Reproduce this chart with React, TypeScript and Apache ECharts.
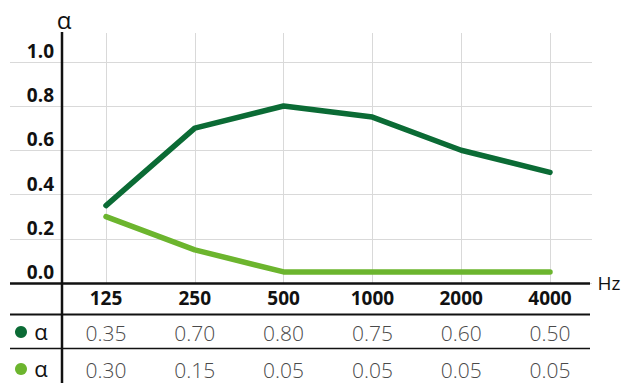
import React, { useEffect, useRef } from "react";
import * as echarts from "echarts";

const categories = ["125", "250", "500", "1000", "2000", "4000"];
const seriesDark = [0.35, 0.7, 0.8, 0.75, 0.6, 0.5];
const seriesLight = [0.3, 0.15, 0.05, 0.05, 0.05, 0.05];
const yTicks = [0, 0.2, 0.4, 0.6, 0.8, 1.0];

const DARK = "#0b6b35";
const LIGHT = "#6cb52e";
const FONT = "'Open Sans', 'Noto Sans', sans-serif";

export default function App() {
  const ref = useRef<HTMLDivElement>(null);
  useEffect(() => {
    if (!ref.current) return;
    const chart = echarts.init(ref.current, undefined, { renderer: "svg" });
    const yBase = {
      type: "value" as const,
      min: 0,
      max: 1.13,
      interval: 0.2,
    };
    const rowAxis = (values: number[], offset: number, gridIndex: number) => ({
      type: "category" as const,
      gridIndex,
      data: categories,
      boundaryGap: false,
      position: "bottom" as const,
      offset,
      axisLine: { show: false },
      axisTick: { show: false },
      splitLine: { show: false },
      axisLabel: {
        margin: 6,
        fontFamily: FONT,
        fontSize: 21,
        fontWeight: 300,
        color: "#4a4a4a",
        interval: 0,
        formatter: (_v: string, i: number) => values[i].toFixed(2),
      },
    });
    chart.setOption({
      animation: false,
      grid: [
        { left: 10, right: 32, top: 33, bottom: 100 },
        { left: 106, right: 74, top: 33, bottom: 100 },
      ],
      xAxis: [
        { type: "value", gridIndex: 0, show: false, min: 0, max: 1 },
        {
          type: "category",
          gridIndex: 1,
          data: categories,
          boundaryGap: false,
          axisLine: { show: false },
          axisTick: { show: false },
          splitLine: { show: true, lineStyle: { color: "#d9d9d9", width: 1 } },
          axisLabel: {
            margin: 5,
            interval: 0,
            fontFamily: FONT,
            fontSize: 19,
            fontWeight: "bold",
            color: "#111",
          },
        },
        rowAxis(seriesDark, 33, 1),
        rowAxis(seriesLight, 70, 1),
      ],
      yAxis: [
        {
          ...yBase,
          gridIndex: 0,
          axisLine: { show: false },
          axisTick: { show: false },
          axisLabel: { show: false },
          splitLine: { show: true, showMaxLine: false, lineStyle: { color: "#d9d9d9", width: 1 } },
        },
        {
          ...yBase,
          gridIndex: 1,
          axisLine: { show: false },
          axisTick: { show: false },
          splitLine: { show: false },
          axisLabel: {
            showMaxLabel: false,
            margin: 52,
            verticalAlign: "bottom",
            lineHeight: 22,
            fontFamily: FONT,
            fontSize: 19,
            fontWeight: "bold",
            color: "#111",
            formatter: (v: number) => (yTicks.some((t) => Math.abs(t - v) < 1e-6) ? v.toFixed(1) : ""),
          },
        },
      ],
      series: [
        {
          type: "line",
          xAxisIndex: 1,
          yAxisIndex: 1,
          data: seriesDark,
          symbol: "none",
          lineStyle: { color: DARK, width: 5.5, cap: "round", join: "round" },
        },
        {
          type: "line",
          xAxisIndex: 1,
          yAxisIndex: 1,
          data: seriesLight,
          symbol: "none",
          lineStyle: { color: LIGHT, width: 5.5, cap: "round", join: "round" },
        },
      ],
      graphic: [
        { type: "line", shape: { x1: 62, y1: 32, x2: 62, y2: 383 }, style: { stroke: "#111", lineWidth: 2.5 }, z: 10 },
        { type: "line", shape: { x1: 10, y1: 283.5, x2: 590, y2: 283.5 }, style: { stroke: "#111", lineWidth: 2.5 }, z: 10 },
        { type: "line", shape: { x1: 10, y1: 314.5, x2: 590, y2: 314.5 }, style: { stroke: "#111", lineWidth: 2 }, z: 10 },
        { type: "line", shape: { x1: 10, y1: 348.5, x2: 590, y2: 348.5 }, style: { stroke: "#111", lineWidth: 1.5 }, z: 10 },
        { type: "circle", shape: { cx: 21, cy: 332, r: 6 }, style: { fill: DARK }, z: 10 },
        { type: "circle", shape: { cx: 21, cy: 369, r: 6 }, style: { fill: LIGHT }, z: 10 },
        { type: "text", x: 41, y: 331, style: { text: "α", font: `22px ${FONT}`, fill: "#111", align: "center", verticalAlign: "middle" }, z: 10 },
        { type: "text", x: 41, y: 368, style: { text: "α", font: `22px ${FONT}`, fill: "#111", align: "center", verticalAlign: "middle" }, z: 10 },
        { type: "text", x: 64, y: 19, style: { text: "α", font: `24px ${FONT}`, fill: "#111", align: "center", verticalAlign: "middle" }, z: 10 },
        { type: "text", x: 609, y: 283, style: { text: "Hz", font: `19px ${FONT}`, fill: "#111", align: "center", verticalAlign: "middle" }, z: 10 },
      ],
    });
    return () => chart.dispose();
  }, []);
  return <div ref={ref} style={{ width: 624, height: 383, position: "absolute", left: 0, top: 0 }} />;
}
